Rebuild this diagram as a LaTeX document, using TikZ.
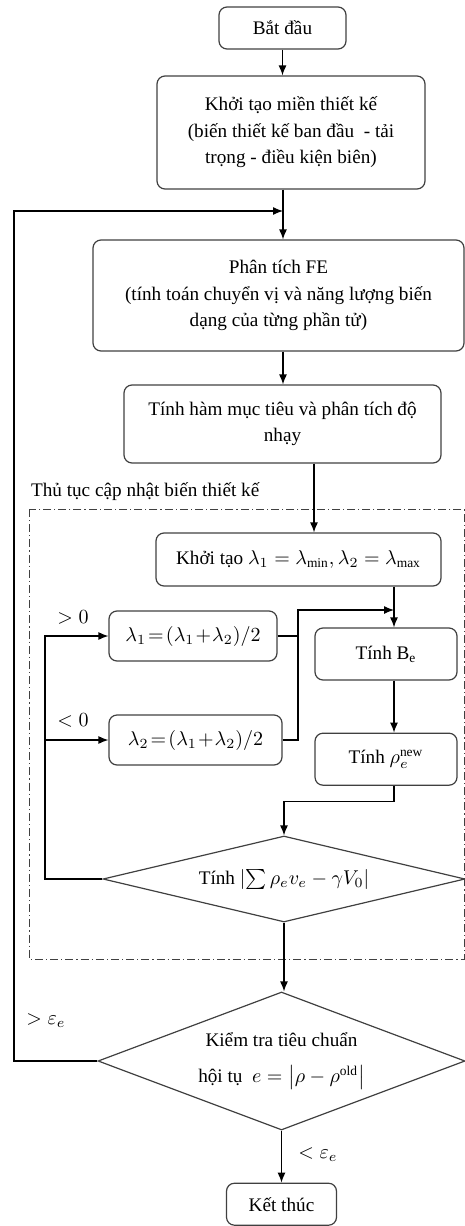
\documentclass[tikz,border=0pt]{standalone}
\usepackage{fontspec}
\setmainfont{Liberation Serif}
\usetikzlibrary{arrows,arrows.meta,positioning,shapes.geometric}

\begin{document}
\begin{tikzpicture}[
                x=0.5pt, y=-0.5pt,
                font=\fontsize{9.6}{13.3}\selectfont,
                block/.style={draw=black!75, line width=0.6pt, rounded corners=4pt, align=center, inner sep=2pt},
                decision/.style={draw=black!75, line width=0.6pt, diamond, align=center, inner sep=0pt},
                arrow/.style={-{Latex[length=5pt,width=4pt]}, line width=0.6pt},
                link/.style={line width=0.6pt},
                frame/.style={draw=black!75, line width=0.5pt, dash pattern=on 4pt off 1.5pt on 0.6pt off 1.5pt},
                node distance=26pt
            ]

            \useasboundingbox (0,0) rectangle (465,1226);

            \node[block, minimum width=63.5pt, minimum height=21pt] (start) at (282.5,28) {Bắt đầu};
            \node[block, minimum width=134pt, minimum height=56.5pt] (init) at (291,132.5) {Khởi tạo miền thiết kế\\(biến thiết kế ban đầu\ \ - tải\\trọng - điều kiện biên)};
            \node[block, minimum width=185.5pt, minimum height=55.5pt] (fe) at (278.5,295.5) {Phân tích FE\\(tính toán chuyển vị và năng lượng biến\\dạng của từng phần tử)};
            \node[block, minimum width=158.5pt, minimum height=39pt] (sens) at (282.5,424) {Tính hàm mục tiêu và phân tích độ\\nhạy};

            \node[anchor=west] (title) at (24,492) {Thủ tục cập nhật biến thiết kế};
            \draw[frame] (29,509) rectangle (464,959);

            \node[block, minimum width=142.5pt, minimum height=26.5pt] (initl) at (298.5,559.5) {Khởi tạo\ $\lambda_1=\lambda_{\min},\lambda_2=\lambda_{\max}$};
            \node[block, minimum width=84pt, minimum height=25pt] (lone) at (193,636) {$\lambda_1\!=\!(\lambda_1\!+\!\lambda_2)/2$};
            \node[block, minimum width=86.5pt, minimum height=25pt] (ltwo) at (195.5,740) {$\lambda_2\!=\!(\lambda_1\!+\!\lambda_2)/2$};
            \node[block, minimum width=71pt, minimum height=26pt] (be) at (386,654) {Tính B\textsubscript{e}};
            \node[block, minimum width=71pt, minimum height=26pt, below=of be] (rho) {Tính $\rho^{\mathrm{new}}_{e}$};
            \node[decision, aspect=4.2, minimum width=181pt, minimum height=43pt] (check) at (284,879) {Tính $\left|\sum\rho_e v_e-\gamma V_0\right|$};

            \node[decision, aspect=2.66, minimum width=183.5pt, minimum height=69pt] (conv) at (281.5,1061) {Kiểm tra tiêu chuẩn\\[5pt]hội tụ\ \ $e=\left|\rho-\rho^{\mathrm{old}}\right|$};
            \node[block, minimum width=55pt, minimum height=21pt, below=of conv] (stop) {Kết thúc};

            \node (gtzero) at (73,617) {$>0$};
            \node (ltzero) at (73,720) {$<0$};
            \node (gteps) at (46,1021) {$>\varepsilon_e$};
            \node (lteps) at (318,1155) {$<\varepsilon_e$};

            \coordinate (merge) at (283,211);
            \coordinate (loop) at (14,211);
            \coordinate (rcol) at (394,610);
            \coordinate (jx) at (298,610);
            \coordinate (lcol) at (45,879);

            \draw[arrow] (start) -- (start |- init.north);
            \draw[link] (merge |- init.south) -- (merge);
            \draw[arrow] (merge) -- (merge |- fe.north);
            \draw[arrow] (conv.west) -| (loop) -- (merge);
            \draw[arrow] (fe.south -| merge) -- (merge |- sens.north);
            \draw[arrow] ([xshift=15.75pt]sens.south) -- ([xshift=15.75pt]sens.south |- initl.north);
            \draw[arrow] (initl.south -| rcol) -- (be.north -| rcol);
            \draw[arrow] (lone.east) -| (jx) -- (rcol);
            \draw[link] (ltwo.east) -| (jx);
            \draw[arrow] (be.south -| rcol) -- (rho.north -| rcol);
            \draw[arrow] (rho.south -| rcol) -- ++(0,16) -| (check.north);
            \draw[arrow] (check.west) -| (lcol |- lone) -- (lone.west);
            \draw[arrow] (lcol |- ltwo) -- (ltwo.west);
            \draw[arrow] (check.south) -- (check.south |- conv.north);
            \draw[arrow] (conv.south) -- (stop.north);

        \end{tikzpicture}
\end{document}
